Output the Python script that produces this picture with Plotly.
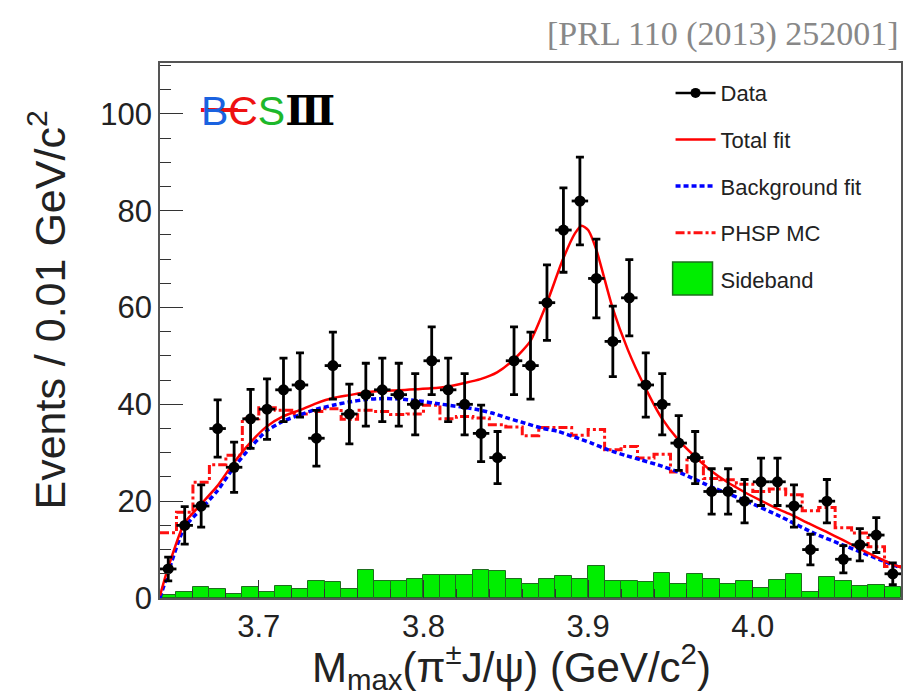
import numpy as np
import plotly.graph_objects as go

# ---------------- data ----------------
bin_lo = 3.64          # lower edge of first bin (GeV/c^2)
bin_w = 0.01           # bin width (GeV/c^2)

data_counts = [6, 15, 19, 35, 27, 37, 39, 43, 44, 33, 48, 38, 42, 43, 42, 40,
               49, 43, 40, 34, 29, 49, 48, 61, 76, 82, 66, 53, 62, 44,
               40, 32, 29, 22, 22, 20, 24, 24, 19, 10, 20, 8, 11, 13, 5]

sideband = [0.6, 1.3, 2.2, 1.9, 0.8, 2.2, 1.3, 2.4, 1.9, 3.5,
            3.4, 1.8, 5.8, 3.5, 3.5, 4.0, 4.7, 4.7, 4.7, 5.8,
            5.5, 4.0, 2.8, 4.0, 4.5, 4.0, 6.6, 3.6, 3.6, 3.4,
            5.2, 2.8, 4.9, 4.0, 2.9, 3.5, 2.0, 3.7, 5.0, 1.2,
            4.3, 3.6, 2.4, 2.6, 2.3]

phsp_mc = [13.5, 17.7, 23.9, 27.5, 29.5, 37.0, 39.3, 38.8, 38.0, 38.5,
           39.1, 36.9, 38.8, 38.5, 37.9, 38.0, 39.8, 37.0, 37.5, 37.2,
           35.8, 35.3, 33.5, 35.2, 35.2, 33.6, 34.8, 30.6, 31.3, 28.9,
           29.7, 26.0, 28.5, 24.7, 24.4, 23.5, 22.0, 22.5, 21.3, 18.0,
           18.7, 14.5, 13.4, 10.6, 6.5]

total_x = [3.6400, 3.6447, 3.6547, 3.6644, 3.6745, 3.6845, 3.6946, 3.7047, 3.7147,
           3.7248, 3.7349, 3.7450, 3.7550, 3.7651, 3.7752, 3.7853, 3.7953, 3.8044,
           3.8149, 3.8250, 3.8346, 3.8447, 3.8547, 3.8648, 3.8749, 3.8845, 3.8920,
           3.8960, 3.9000, 3.9050, 3.9146, 3.9242, 3.9343, 3.9444, 3.9549, 3.9649,
           3.9742, 3.9842, 3.9943, 4.0044, 4.0144, 4.0239, 4.0340, 4.0445, 4.0546,
           4.0642, 4.0743, 4.0848, 4.0900]
total_y = [0.5, 6.0, 15.4, 19.2, 23.0, 27.8, 32.0, 35.4, 37.5,
           38.8, 40.2, 41.3, 41.9, 42.5, 42.8, 42.9, 43.1, 43.3,
           43.7, 44.4, 45.2, 46.6, 49.2, 53.0, 60.9, 69.8, 75.3,
           76.9, 76.0, 71.9, 60.2, 51.2, 43.7, 37.3, 32.6, 29.2,
           26.4, 24.0, 22.0, 20.2, 18.5, 17.1, 15.4, 13.7, 12.0,
           10.3, 8.6, 7.0, 6.3]

bkg_x = [3.6400, 3.6447, 3.6547, 3.6644, 3.6745, 3.6845, 3.6946, 3.7047, 3.7147,
         3.7248, 3.7349, 3.7450, 3.7550, 3.7651, 3.7752, 3.7853, 3.7953, 3.8114,
         3.8316, 3.8416, 3.8517, 3.8618, 3.8718, 3.8819, 3.8920, 3.9020, 3.9121,
         3.9222, 3.9323, 3.9424, 3.9564, 3.9766, 3.9970, 4.0169, 4.0370, 4.0573,
         4.0773, 4.0900]
bkg_y = [0.0, 5.0, 14.5, 18.2, 22.0, 26.8, 31.0, 34.5, 36.5,
         37.8, 39.0, 39.8, 40.5, 41.0, 41.2, 41.1, 40.8, 40.0,
         39.0, 38.2, 37.1, 36.1, 35.1, 34.4, 33.2, 32.0, 30.6,
         29.5, 28.5, 27.5, 25.8, 22.7, 19.9, 16.8, 13.4, 10.6,
         7.9, 6.2]

x_tick_vals = [3.7, 3.8, 3.9, 4.0]
x_tick_text = ["3.7", "3.8", "3.9", "4.0"]
y_tick_vals = [0, 20, 40, 60, 80, 100]

# ---------------- derived bin geometry ----------------
n = len(data_counts)
centers = bin_lo + bin_w * (np.arange(n) + 0.5)
edges = bin_lo + bin_w * np.arange(n + 1)
errs = np.sqrt(np.array(data_counts, dtype=float))

SB_GREEN = "#00ee00"
SB_EDGE = "#1e6e1e"

fig = go.Figure()

# Sideband histogram
fig.add_trace(go.Bar(
    x=centers, y=sideband, width=bin_w, name="Sideband", showlegend=False,
    marker=dict(color=SB_GREEN, line=dict(color=SB_EDGE, width=1)),
))

# PHSP MC step histogram
fig.add_trace(go.Scatter(
    x=edges, y=list(phsp_mc) + [phsp_mc[-1]], mode="lines", line_shape="hv",
    line=dict(color="#ff1010", width=3, dash="9px,3px,3px,3px"),
    name="PHSP MC", legendgroup="g4", legendrank=4,
))

# Background fit
fig.add_trace(go.Scatter(
    x=bkg_x, y=bkg_y, mode="lines", line_shape="spline",
    line=dict(color="#0000ff", width=3.5, dash="5px,3px", smoothing=0.6),
    name="Background fit", legendgroup="g3", legendrank=3,
))

# Total fit
fig.add_trace(go.Scatter(
    x=total_x, y=total_y, mode="lines", line_shape="spline",
    line=dict(color="#ff0000", width=2.5, smoothing=0.6),
    name="Total fit", legendgroup="g2", legendrank=2,
))

# Data points
fig.add_trace(go.Scatter(
    x=centers, y=data_counts, mode="markers",
    marker=dict(color="black", size=11),
    error_y=dict(type="data", array=errs, color="black", thickness=2.8, width=4),
    error_x=dict(type="constant", value=bin_w / 2, color="black", thickness=2.8, width=0),
    showlegend=False, name="Data",
))
# legend entries
fig.add_trace(go.Scatter(
    x=[None], y=[None], mode="lines+markers",
    marker=dict(color="black", size=10),
    line=dict(color="black", width=2.5),
    name="Data", legendgroup="g1", legendrank=1,
))
fig.add_trace(go.Scatter(
    x=[None], y=[None], mode="markers",
    marker=dict(color=SB_GREEN, symbol="square", size=16, line=dict(width=0)),
    name="Sideband", legendgroup="g5", legendrank=5,
))

axis_font = dict(family="Liberation Sans, Arial, sans-serif", size=31, color="#222")

fig.update_layout(
    width=905, height=699,
    margin=dict(l=160, r=2, t=63, b=101),
    paper_bgcolor="white", plot_bgcolor="white",
    showlegend=True,
    legend=dict(
        x=0.689, y=0.983, xanchor="left", yanchor="top",
        bgcolor="rgba(255,255,255,0)", borderwidth=0,
        font=dict(family="Liberation Sans, Arial, sans-serif", size=22, color="#222"),
        traceorder="grouped", tracegroupgap=15, itemwidth=40, itemsizing="trace",
    ),
    xaxis=dict(
        range=[edges[0], edges[-1]],
        tickvals=x_tick_vals, ticktext=x_tick_text,
        ticks="inside", ticklen=18, tickwidth=1.2, tickcolor="#333",
        minor=dict(dtick=0.02, tick0=3.6, ticks="inside", ticklen=9, tickwidth=1, tickcolor="#333"),
        showline=True, mirror=True, linecolor="#555", linewidth=1.5,
        showgrid=False, zeroline=False, tickfont=axis_font,
    ),
    yaxis=dict(
        range=[0, 110.5],
        tickvals=y_tick_vals,
        ticks="inside", ticklen=23, tickwidth=1.2, tickcolor="#333",
        minor=dict(dtick=5, ticks="inside", ticklen=11, tickwidth=1, tickcolor="#333"),
        showline=True, mirror=True, linecolor="#555", linewidth=1.5,
        showgrid=False, zeroline=False, tickfont=axis_font,
    ),
    bargap=0,
)

# big legend swatch for the sideband entry
fig.add_shape(type="rect", xref="paper", yref="paper",
              x0=(674 - 160) / 743, x1=(714 - 160) / 743,
              y0=(598 - 295) / 535, y1=(598 - 262) / 535,
              fillcolor=SB_GREEN, line=dict(color=SB_EDGE, width=1.5), layer="above")

# Axis titles
fig.add_annotation(
    text="Events / 0.01 GeV/c<sup>2</sup>", textangle=-90,
    xref="paper", yref="paper", x=-0.152, y=0.538, showarrow=False,
    xanchor="center", yanchor="middle",
    font=dict(family="Liberation Sans, Arial, sans-serif", size=43, color="#222"),
)
fig.add_annotation(
    text="M<sub>max</sub>(π<sup>±</sup>J/ψ) (GeV/c<sup>2</sup>)",
    xref="paper", yref="paper", x=0.475, y=-0.128, showarrow=False,
    xanchor="center", yanchor="middle",
    font=dict(family="Liberation Sans, Arial, sans-serif", size=42, color="#222"),
)

# Reference text
fig.add_annotation(
    text="[PRL 110 (2013) 252001]",
    xref="paper", yref="paper", x=1.0, y=1.054, showarrow=False,
    xanchor="right", yanchor="middle",
    font=dict(family="Liberation Serif, Times New Roman, serif", size=34, color="#888"),
)

# BESIII logo (one text, coloured letters)
logo_text = ('<span style="color:#1a62e0">B</span>'
             '<span style="color:#ee1111">Є</span>'
             '<span style="color:#1db82b">S</span>'
             '<span style="color:#000000;font-family:DejaVu Serif;font-weight:bold">Ⅲ</span>')
fig.add_annotation(
    text=logo_text, xref="paper", yref="paper", x=(199 - 160) / 743, y=(598 - 111) / 535,
    showarrow=False, xanchor="left", yanchor="middle",
    font=dict(family="Liberation Sans, Arial", size=41, color="#000"),
)
fig.add_shape(type="line", xref="paper", yref="paper",
              x0=(201 - 160) / 743, x1=(238 - 160) / 743,
              y0=(598 - 110) / 535, y1=(598 - 110) / 535,
              line=dict(color="#ee1111", width=4))

fig.write_html("out.html")
